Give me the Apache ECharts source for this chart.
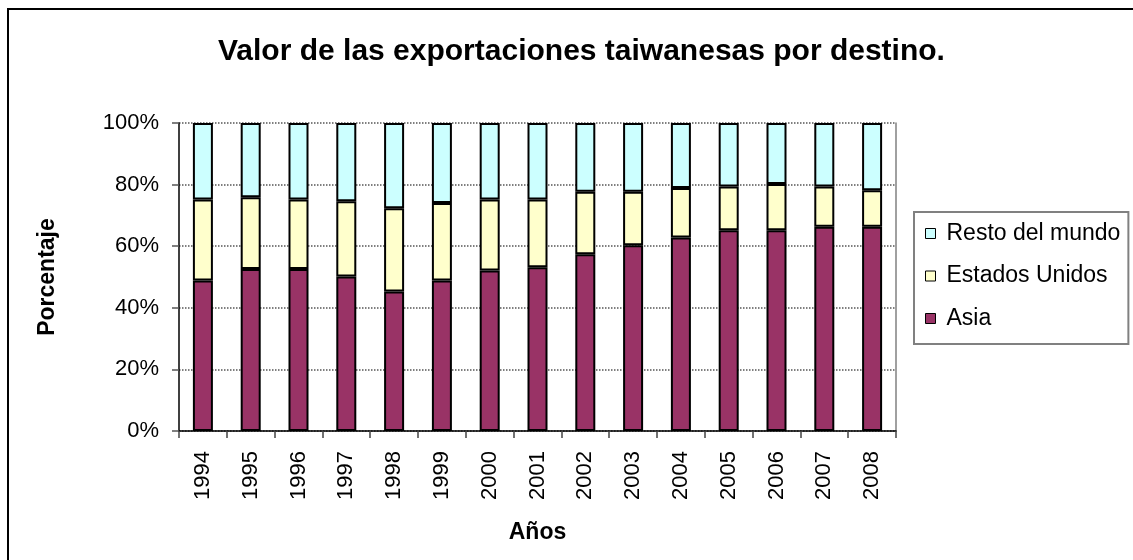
<!DOCTYPE html>
<html>
<head>
<meta charset="utf-8">
<script src="https://cdn.jsdelivr.net/npm/echarts@6/dist/echarts.min.js"></script>
<style>
  html, body { margin: 0; padding: 0; background: #fff; }
  #chart { width: 1133px; height: 560px; }
</style>
</head>
<body>
<div id="chart"></div>
<script>
  // años
  var years = ['1994', '1995', '1996', '1997', '1998', '1999', '2000', '2001',
    '2002', '2003', '2004', '2005', '2006', '2007', '2008']
  // porcentajes por destino
  var asia = [48.9, 52.6, 52.6, 50.2, 45.3, 48.9, 52.1, 53.2, 57.4, 60.3, 62.8, 65.2, 65.2, 66.3, 66.3]
  var estadosUnidos = [26.3, 23.3, 22.6, 24.4, 27.0, 25.1, 23.1, 22.0, 20.3, 17.4, 16.1, 14.2, 15.0, 13.1, 11.9]
  var restoMundo = [24.8, 24.1, 24.8, 25.4, 27.7, 26.0, 24.8, 24.8, 22.3, 22.3, 21.1, 20.6, 19.8, 20.6, 21.8]

  var font = 'Liberation Sans'
  var chart = echarts.init(document.getElementById('chart'))

  function serie (name, data, color) {
    return {
      name: name,
      type: 'bar',
      stack: 'total',
      barWidth: 20,
      data: data,
      itemStyle: { color: color, borderColor: '#000', borderWidth: 2 }
    }
  }

  var option = {
    backgroundColor: '#fff',
    animation: false,
    // titulo
    title: {
      text: 'Valor de las exportaciones taiwanesas por destino.',
      left: 213,
      top: 32,
      textStyle: { fontFamily: font, fontSize: 30, fontWeight: 'bold', color: '#000' }
    },
    // marco exterior
    graphic: [{
      type: 'rect',
      shape: { x: 8, y: 9, width: 1200, height: 600 },
      style: { fill: 'none', stroke: '#000', lineWidth: 2 },
      silent: true
    }],
    legend: {
      orient: 'vertical',
      left: 914,
      top: 212,
      padding: [10, 8, 14, 11],
      itemGap: 19.5,
      itemWidth: 10,
      itemHeight: 10,
      icon: 'rect',
      borderColor: '#808080',
      borderWidth: 2,
      data: ['Resto del mundo', 'Estados Unidos', 'Asia'],
      itemStyle: { borderColor: '#000', borderWidth: 1 },
      textStyle: { fontFamily: font, fontSize: 23, lineHeight: 23, color: '#000', padding: [0, 0, 0, 6] }
    },
    grid: { left: 179, right: 237, top: 123, bottom: 129 },
    xAxis: {
      type: 'category',
      data: years,
      name: 'Años',
      nameLocation: 'middle',
      nameGap: 90,
      nameTextStyle: { fontFamily: font, fontSize: 23, fontWeight: 'bold', color: '#000' },
      axisLine: { lineStyle: { color: '#000', width: 1.5 } },
      axisTick: { show: true, length: 7, lineStyle: { color: '#444', width: 1.5 } },
      axisLabel: { rotate: 90, margin: 20, fontFamily: font, fontSize: 22, color: '#000' }
    },
    yAxis: [{
      type: 'value',
      min: 0,
      max: 100,
      interval: 20,
      name: 'Porcentaje',
      nameLocation: 'middle',
      nameGap: 120,
      nameTextStyle: { fontFamily: font, fontSize: 23, fontWeight: 'bold', color: '#000' },
      axisLine: { show: true, lineStyle: { color: '#000', width: 1.5 } },
      axisTick: { show: true, length: 7, lineStyle: { color: '#555', width: 1.5 } },
      axisLabel: { formatter: '{value}%', margin: 20, fontFamily: font, fontSize: 22, color: '#000' },
      splitLine: { lineStyle: { type: 'dotted', color: '#555', width: 1.5 } }
    }, {
      // borde derecho del area de trazado
      type: 'value',
      min: 0,
      max: 100,
      position: 'right',
      axisLine: { show: true, lineStyle: { color: '#808080', width: 1.5 } },
      axisTick: { show: false },
      axisLabel: { show: false },
      splitLine: { show: false }
    }],
    series: [
      serie('Asia', asia, '#993366'),
      serie('Estados Unidos', estadosUnidos, '#FFFFCC'),
      serie('Resto del mundo', restoMundo, '#CCFFFF')
    ]
  }
  chart.setOption(option)
</script>
</body>
</html>
